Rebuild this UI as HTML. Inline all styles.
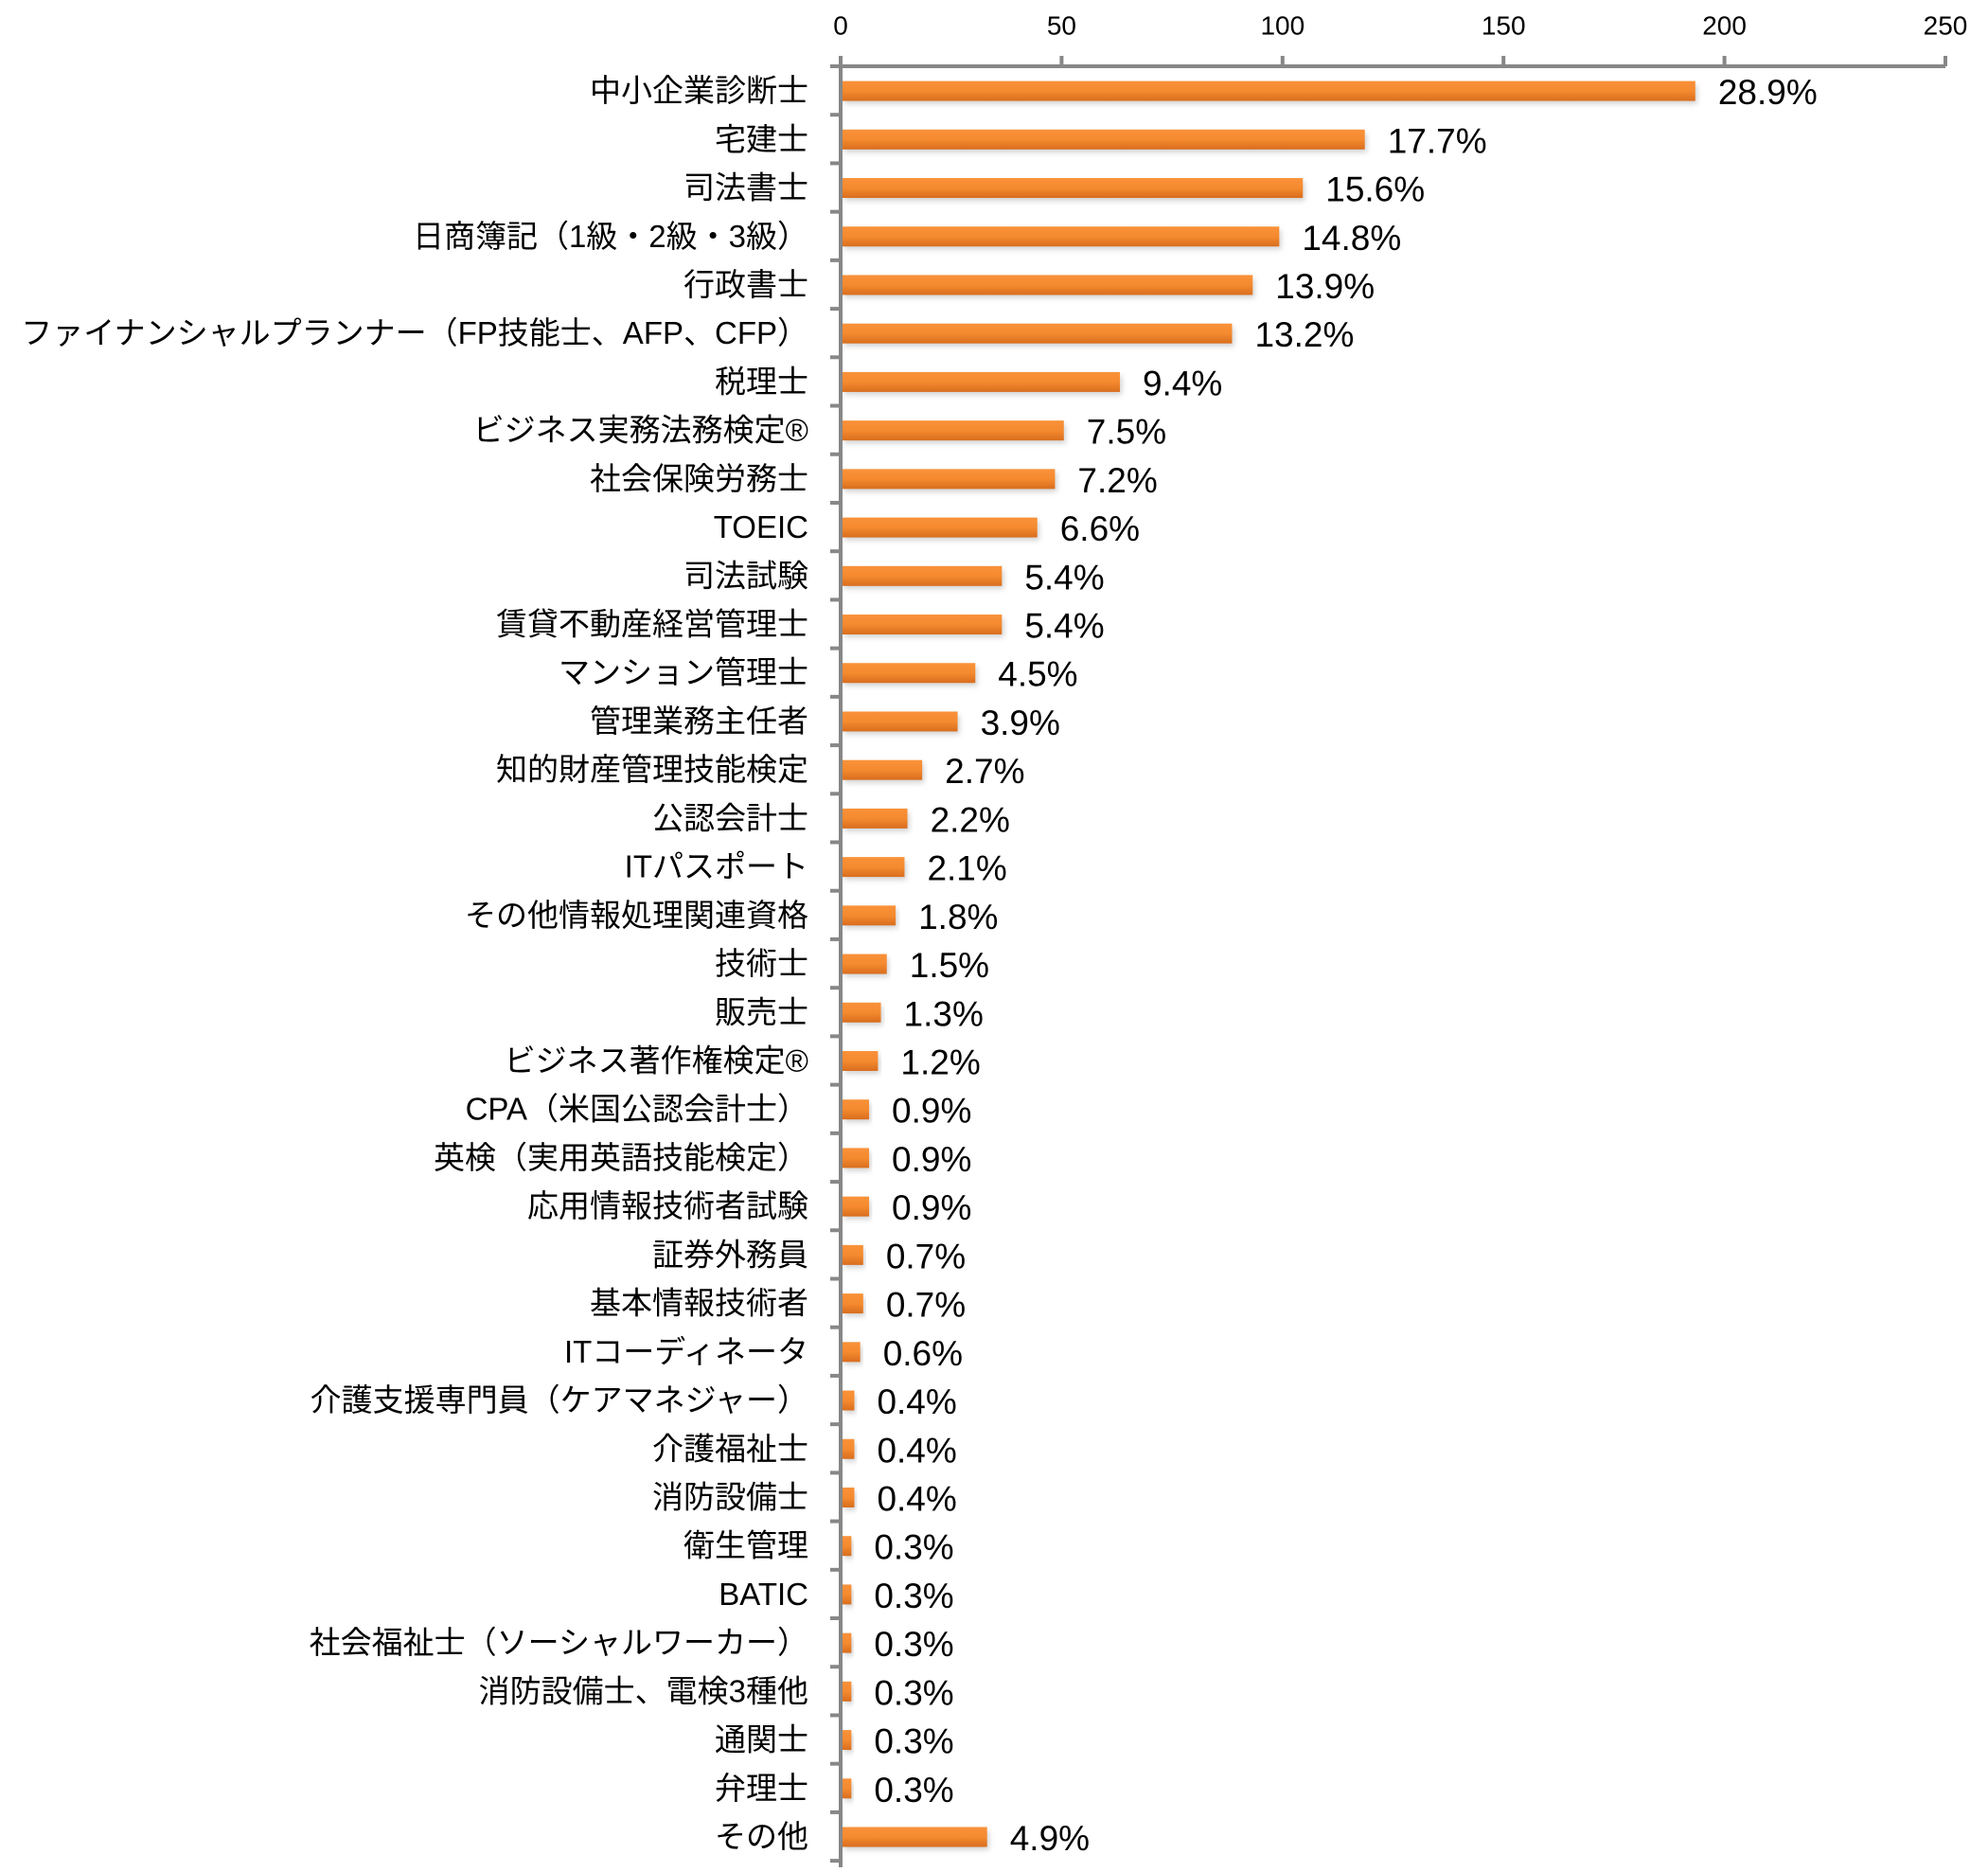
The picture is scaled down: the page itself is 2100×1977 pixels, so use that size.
<!DOCTYPE html>
<html><head><meta charset="utf-8"><style>
html,body{margin:0;padding:0;background:#fff;}
svg{display:block;}
.l{font-family:"Liberation Sans","Noto Sans CJK JP",sans-serif;font-size:33px;fill:#000;text-anchor:end;dominant-baseline:central;}
.v{font-family:"Liberation Sans","Noto Sans CJK JP",sans-serif;font-size:37px;fill:#000;dominant-baseline:central;}
.t{font-family:"Liberation Sans",sans-serif;font-size:28px;fill:#000;text-anchor:middle;dominant-baseline:central;}
</style></head><body>
<svg id="s" width="2100" height="1977" viewBox="0 0 2100 1977" xmlns="http://www.w3.org/2000/svg">
<defs>
<linearGradient id="g" x1="0" y1="0" x2="0" y2="1">
<stop offset="0" stop-color="#f9923a"/><stop offset="0.5" stop-color="#f58a2f"/><stop offset="1" stop-color="#d86d1e"/>
</linearGradient>
<filter id="sh" x="-5%" y="-50%" width="110%" height="250%"><feGaussianBlur stdDeviation="3"/></filter>
</defs>
<g id="axis" stroke="#878787" stroke-width="4">
<line x1="877" y1="70" x2="2055" y2="70"/>
<line x1="888" y1="59" x2="888" y2="1972"/>
</g>
</svg>
<script>
var labels=["中小企業診断士","宅建士","司法書士","日商簿記（1級・2級・3級）","行政書士","ファイナンシャルプランナー（FP技能士、AFP、CFP）","税理士","ビジネス実務法務検定®","社会保険労務士","TOEIC","司法試験","賃貸不動産経営管理士","マンション管理士","管理業務主任者","知的財産管理技能検定","公認会計士","ITパスポート","その他情報処理関連資格","技術士","販売士","ビジネス著作権検定®","CPA（米国公認会計士）","英検（実用英語技能検定）","応用情報技術者試験","証券外務員","基本情報技術者","ITコーディネータ","介護支援専門員（ケアマネジャー）","介護福祉士","消防設備士","衛生管理","BATIC","社会福祉士（ソーシャルワーカー）","消防設備士、電検3種他","通関士","弁理士","その他"];
var vals=[28.9,17.7,15.6,14.8,13.9,13.2,9.4,7.5,7.2,6.6,5.4,5.4,4.5,3.9,2.7,2.2,2.1,1.8,1.5,1.3,1.2,0.9,0.9,0.9,0.7,0.7,0.6,0.4,0.4,0.4,0.3,0.3,0.3,0.3,0.3,0.3,4.9];
var ns="http://www.w3.org/2000/svg",s=document.getElementById("s"),a=document.getElementById("axis");
function el(t,at,p,txt){var e=document.createElementNS(ns,t);for(var k in at)e.setAttribute(k,at[k]);if(txt!==undefined)e.textContent=txt;p.appendChild(e);return e;}
var sp=51.22;
for(var k=0;k<=5;k++){var x=888+k*233.4;el("line",{x1:x,y1:59,x2:x,y2:70},a);el("text",{x:x,y:27,"class":"t"},s,String(k*50));}
for(var k=0;k<=37;k++){var y=95.6-sp/2+sp*k;el("line",{x1:877,y1:y,x2:888,y2:y},a);}
for(var i=0;i<37;i++){var c=95.6+sp*i,w=vals[i]*31.17;
el("rect",{x:892,y:c-6,width:w,height:20,fill:"#999",opacity:"0.45",filter:"url(#sh)"},s);
el("rect",{x:890,y:c-10,width:w,height:21,fill:"url(#g)"},s);
el("text",{x:854,y:c,"class":"l"},s,labels[i]);
el("text",{x:890+w+24,y:c+2,"class":"v"},s,vals[i].toFixed(1)+"%");}
</script>
</body></html>
